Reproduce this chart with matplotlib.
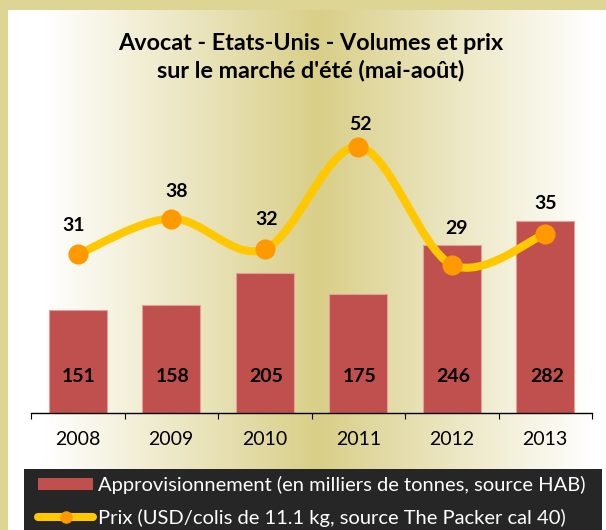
import numpy as np
import matplotlib
matplotlib.use("Agg")
import matplotlib.pyplot as plt
from matplotlib.path import Path
from matplotlib.patches import PathPatch, Rectangle, Patch
from matplotlib.lines import Line2D
import matplotlib.colors as mcolors

plt.rcParams['font.family'] = ['Lato', 'DejaVu Sans']

# data
years = ['2008', '2009', '2010', '2011', '2012', '2013']
volumes = [151, 158, 205, 175, 246, 282]
prices = [31, 38, 32, 52, 29, 35]
title = "Avocat - Etats-Unis - Volumes et prix\nsur le marché d'été (mai-août)"
label_bar = 'Approvisionnement (en milliers de tonnes, source HAB)'
label_line = 'Prix (USD/colis de 11.1 kg, source The Packer cal 40)'

# label nudges (points) for the price labels, as placed in the original
price_lbl_dx = [-3, 3.5, 1.5, 1.5, 3.5, 0]
price_lbl_dy = [21, 19.5, 21.5, 16.5, 26, 22]

W, H = 606, 530
fig = plt.figure(figsize=(W / 100, H / 100), dpi=100)
fig.patch.set_facecolor('#DDD594')

# gradient background panel
bg = fig.add_axes([8 / W, 0, 598 / W, 520 / H])
xs = np.linspace(0, 1, 400)
t = np.clip(1 - np.abs(xs - 0.52) / 0.46, 0, 1)
c0 = np.array(mcolors.to_rgb('#FFFFFF'))
c1 = np.array(mcolors.to_rgb('#D9CF88'))
grad = (c0[None, :] * (1 - t[:, None]) + c1[None, :] * t[:, None])[None, :, :]
bg.imshow(grad, aspect='auto', extent=(0, 1, 0, 1))
bg.set_axis_off()

# main axes
ax = fig.add_axes([31 / W, 117 / H, 561 / W, 307 / H])
ax.patch.set_visible(False)
x = np.arange(len(years))
ax.bar(x, volumes, width=0.62, color='#C0504D', edgecolor='#E0A09C', linewidth=0.8, zorder=2)
ax.set_xlim(-0.5, len(years) - 0.5)
ax.set_ylim(0, 450)
ax.set_yticks([])
for s in ['top', 'left', 'right']:
    ax.spines[s].set_visible(False)
ax.spines['bottom'].set_linewidth(1.0)
ax.set_xticks(x, years, fontsize=14)
ax.set_xticks(np.arange(-0.5, len(years), 1), minor=True)
ax.tick_params(axis='x', which='major', length=0, pad=13)
ax.tick_params(axis='x', which='minor', length=4, width=0.8, direction='out')

for i, v in enumerate(volumes):
    ax.annotate(str(v), (x[i], 0), xytext=(1, 26), textcoords='offset points',
                ha='center', va='center', fontsize=14, fontweight='bold', zorder=5)

# price line, smoothed with bezier segments through the points
ax2 = ax.twinx()
ax2.set_ylim(0, 60)
ax2.set_yticks([])
for s in ax2.spines.values():
    s.set_visible(False)

pts = np.column_stack([x, prices]).astype(float)
verts = [pts[0]]
codes = [Path.MOVETO]
n = len(pts)
for i in range(n - 1):
    p0 = pts[i - 1] if i > 0 else pts[i]
    p1 = pts[i]
    p2 = pts[i + 1]
    p3 = pts[i + 2] if i + 2 < n else pts[i + 1]
    c1p = p1 + (p2 - p0) / 6
    c2p = p2 - (p3 - p1) / 6
    verts += [c1p, c2p, p2]
    codes += [Path.CURVE4] * 3
ax2.add_patch(PathPatch(Path(verts, codes), facecolor='none', edgecolor='#FFC800',
                        linewidth=5.8, capstyle='round', joinstyle='round', zorder=3))
ax2.plot(x, prices, 'o', color='#FF9900', markersize=13.5, zorder=4)

for i, v in enumerate(prices):
    ax2.annotate(str(v), (x[i], v), xytext=(price_lbl_dx[i], price_lbl_dy[i]),
                 textcoords='offset points', ha='center', va='center',
                 fontsize=14, fontweight='bold')

fig.text(311 / W, 1 - 57 / H, title, ha='center', va='center', fontsize=16.8,
         fontweight='bold', linespacing=1.35)

# legend on dark band
fig.patches.append(Rectangle((24 / W, 0), 578 / W, 61 / H, transform=fig.transFigure,
                             facecolor='#262626', edgecolor='none', zorder=1))
handles = [Patch(facecolor='#C0504D', edgecolor='none'),
           Line2D([], [], color='#FFC800', lw=5.8, marker='o', markersize=8,
                  markerfacecolor='#FF9900', markeredgecolor='#FF9900', solid_capstyle='round')]
leg = fig.legend(handles, [label_bar, label_line], loc='upper left',
                 bbox_to_anchor=(38 / W, 1 - 476 / H), frameon=False, fontsize=14.5,
                 handlelength=2.75, handleheight=0.6, handletextpad=0.25, labelspacing=0.75,
                 borderpad=0, borderaxespad=0)
for txt in leg.get_texts():
    txt.set_color('white')

fig.savefig('out.png', dpi=100)
